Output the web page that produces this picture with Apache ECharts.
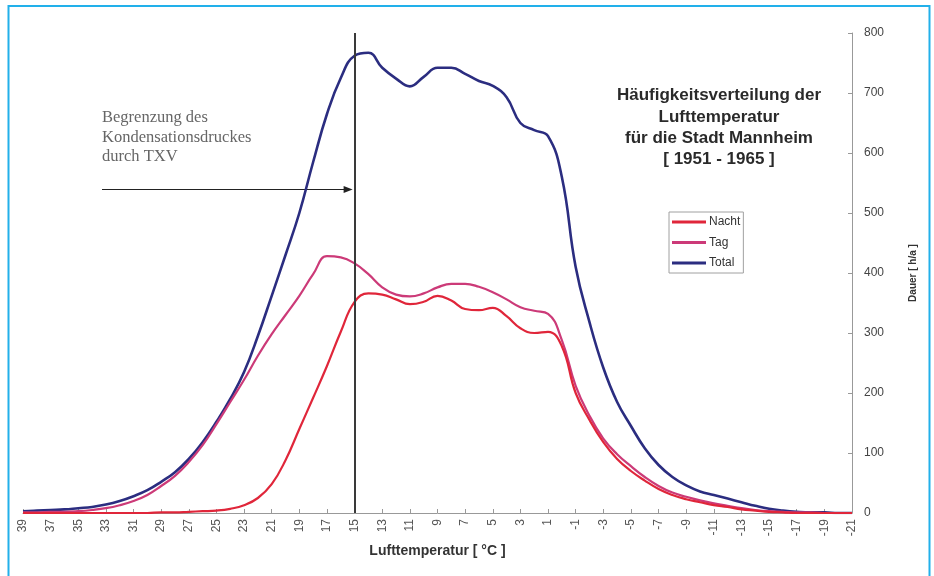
<!DOCTYPE html>
<html>
<head>
<meta charset="utf-8">
<script src="https://cdn.jsdelivr.net/npm/echarts@6/dist/echarts.min.js"></script>
<style>
  html, body { margin: 0; padding: 0; background: #fff; }
  #chart { width: 934px; height: 576px; }
</style>
</head>
<body>
<div id="chart"></div>
<script>
// Temperatures (°C), from 39 down to -21
const temps = [39,38,37,36,35,34,33,32,31,30,29,28,27,26,25,24,23,22,21,20,19,18,17,16,15,14,13,12,11,10,9,8,7,6,5,4,3,2,1,0,-1,-2,-3,-4,-5,-6,-7,-8,-9,-10,-11,-12,-13,-14,-15,-16,-17,-18,-19,-20,-21];

// Hours per year (h/a)
const nacht = [0,0,0,0,0,0,0,0,0,0,1,1,2,3,4,7,13,25,48,88,140,192,245,302,352,366,364,356,348,352,362,354,340,338,342,328,308,300,302,278,200,155,118,90,70,54,40,30,23,18,13,10,6,4,2,1,0,0,0,0,0];
const tag   = [1,1,2,2,3,5,8,13,20,30,45,62,85,113,148,185,222,262,298,330,362,398,428,426,416,398,376,364,361,366,376,382,382,377,368,356,343,337,332,288,212,162,124,98,78,60,45,34,27,21,16,12,8,5,3,2,1,1,0,0,0];
const total = [3,4,5,6,8,10,14,20,28,38,52,68,90,118,152,190,235,295,362,430,500,585,665,725,762,767,742,724,711,727,742,742,732,720,712,693,650,638,628,560,410,318,242,185,145,108,80,60,46,36,30,24,18,12,7,4,2,1,1,0,0];

const yTicks = { min: 0, max: 800, interval: 100 };
const limitTemp = '15';      // Begrenzung (vertical line)
const arrowLevel = 540;      // arrow height in h/a

const titleLines = ['Häufigkeitsverteilung der', 'Lufttemperatur', 'für die Stadt Mannheim', '[ 1951 - 1965 ]'];
const noteLines = ['Begrenzung des', 'Kondensationsdruckes', 'durch TXV'];

const chart = echarts.init(document.getElementById('chart'), null, { renderer: 'canvas' });
const FONT = '"Liberation Sans", Arial, sans-serif';

const option = {
  animation: false,
  backgroundColor: '#ffffff',
  textStyle: { fontFamily: FONT },
  grid: { left: 23, right: 82, top: 33, bottom: 63, containLabel: false },
  legend: {
    orient: 'vertical',
    left: 669, top: 212,
    padding: [4, 3, 4, 3],
    itemGap: 8.5,
    itemWidth: 34, itemHeight: 3,
    icon: 'rect',
    borderColor: '#a0a0a0', borderWidth: 1,
    textStyle: { fontSize: 12, color: '#333', fontFamily: FONT, padding: [0, 0, 0, -2] },
    data: ['Nacht', 'Tag', 'Total']
  },
  xAxis: {
    type: 'category',
    data: temps.map(String),
    boundaryGap: false,
    axisLine: { lineStyle: { color: '#999', width: 1 } },
    axisTick: { show: true, inside: true, length: 4, interval: 1, lineStyle: { color: '#999' } },
    axisLabel: { interval: 1, rotate: 90, fontSize: 12, color: '#555', margin: 6 },
    splitLine: { show: false },
    name: 'Lufttemperatur [ °C ]',
    nameLocation: 'middle',
    nameGap: 31,
    nameTextStyle: { fontWeight: 'bold', fontSize: 14, color: '#333' }
  },
  yAxis: {
    type: 'value',
    position: 'right',
    min: yTicks.min, max: yTicks.max, interval: yTicks.interval,
    axisLine: { show: true, lineStyle: { color: '#999', width: 1 } },
    axisTick: { show: true, inside: true, length: 4, lineStyle: { color: '#999' } },
    axisLabel: { fontSize: 12, color: '#444', margin: 12 },
    splitLine: { show: false },
    name: 'Dauer [ h/a ]',
    nameLocation: 'middle',
    nameRotate: 90,
    nameGap: 56,
    nameTextStyle: { fontWeight: 'bold', fontSize: 10, color: '#333' }
  },
  series: [
    {
      name: 'Total', type: 'line', data: total, smooth: 0.45, symbol: 'none',
      lineStyle: { color: '#2b2d80', width: 2.6 }, itemStyle: { color: '#2b2d80' },
      z: 2,
      markLine: {
        silent: true, symbol: 'none', animation: false,
        label: { show: false },
        lineStyle: { color: '#3a3a3a', width: 2, type: 'solid' },
        data: [{ xAxis: limitTemp }]
      }
    },
    {
      name: 'Tag', type: 'line', data: tag, smooth: 0.45, symbol: 'none',
      lineStyle: { color: '#cc3a78', width: 2.2 }, itemStyle: { color: '#cc3a78' }, z: 3
    },
    {
      name: 'Nacht', type: 'line', data: nacht, smooth: 0.45, symbol: 'none',
      lineStyle: { color: '#e0263a', width: 2.2 }, itemStyle: { color: '#e0263a' }, z: 4
    }
  ]
};
chart.setOption(option);

// Annotations (title, note, arrow, frame)
const tip = chart.convertToPixel({ xAxisIndex: 0, yAxisIndex: 0 }, [limitTemp, arrowLevel]);
const ax = 102, ay = Math.round(tip[1]) + 0.5, tx = tip[0] - 2;
chart.setOption({
  graphic: [
    {
      type: 'rect', silent: true,
      shape: { x: 8.5, y: 6, width: 921, height: 590 },
      style: { fill: null, stroke: '#22b0ea', lineWidth: 2 }
    },
    {
      type: 'text', x: 719, y: 85,
      style: {
        text: titleLines.join('\n'), fill: '#2a2a2a',
        font: 'bold 17px ' + FONT, align: 'center', lineHeight: 21.3
      }
    },
    {
      type: 'text', x: 102, y: 108,
      style: {
        text: noteLines.join('\n'), fill: '#666666',
        font: '16.5px "Liberation Serif", "Times New Roman", serif', lineHeight: 19.5
      }
    },
    {
      type: 'line', shape: { x1: ax, y1: ay, x2: tx - 6, y2: ay },
      style: { stroke: '#222', lineWidth: 1.2 }
    },
    {
      type: 'polygon', shape: { points: [[tx, ay], [tx - 9, ay - 3.5], [tx - 9, ay + 3.5]] },
      style: { fill: '#222' }
    }
  ]
});
</script>
</body>
</html>
